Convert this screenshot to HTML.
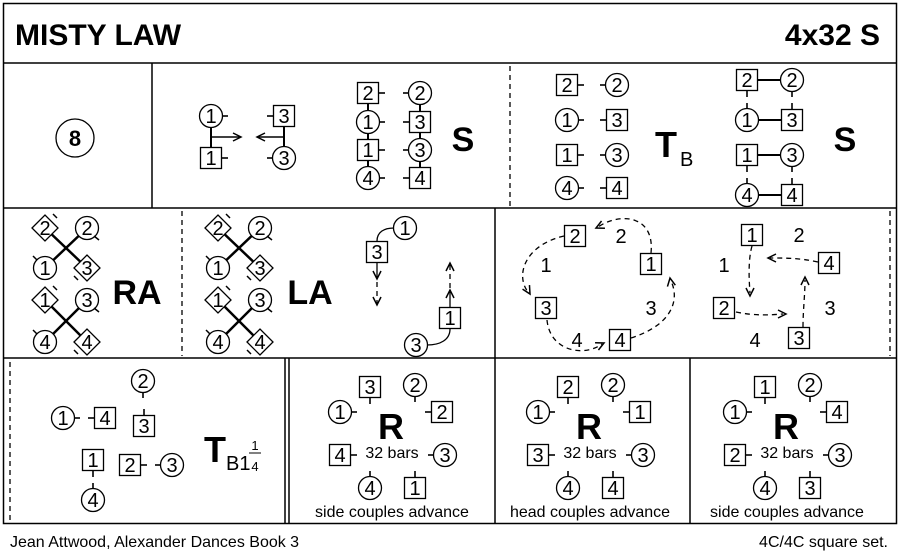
<!DOCTYPE html><html><head><style>body{margin:0;background:#fff}svg{display:block}text{font-family:"Liberation Sans",sans-serif}</style></head><body>
<svg id="s" width="900" height="557" xmlns="http://www.w3.org/2000/svg"></svg>
<script>
let o='';const P=s=>o+=s;
const T=(x,y,t,sz=20,w='normal',a='middle')=>P(`<text x="${x}" y="${y}" font-size="${sz}" font-weight="${w}" text-anchor="${a}">${t}</text>`);
const C=(x,y,n)=>{P(`<circle cx="${x}" cy="${y}" r="11.5" fill="#fff" stroke="#000" stroke-width="1.3"/>`);T(x,y+7,n);};
const S=(x,y,n)=>{P(`<rect x="${x-10.5}" y="${y-10.5}" width="21" height="21" fill="#fff" stroke="#000" stroke-width="1.3"/>`);T(x,y+7,n);};
const D=(x,y,n)=>{P(`<path d="M${x-13},${y}L${x},${y-13}L${x+13},${y}L${x},${y+13}Z" fill="#fff" stroke="#000" stroke-width="1.3"/>`);T(x,y+7,n);};
const L=(a,b,c,d,w=2)=>P(`<line x1="${a}" y1="${b}" x2="${c}" y2="${d}" stroke="#000" stroke-width="${w}"/>`);
const tr=(x,y)=>L(x+11,y,x+17,y,1.6),tl=(x,y)=>L(x-17,y,x-11,y,1.6),tu=(x,y)=>L(x,y-17,x,y-11,1.6),td=(x,y)=>L(x,y+11,x,y+17,1.6);
const ah=(x,y,ang)=>P(`<path d="M-8,-4L0,0L-8,4" fill="none" stroke="#000" stroke-width="1.5" transform="translate(${x},${y}) rotate(${ang})"/>`);
const DP=(d)=>P(`<path d="${d}" fill="none" stroke="#000" stroke-width="1.3" stroke-dasharray="5,4"/>`);
P(`<rect x="3.5" y="3.5" width="893" height="520" fill="none" stroke="#000" stroke-width="1.5"/>`);
L(3,63,897,63,1.5);L(3,208,897,208,1.5);L(3,358,897,358,1.5);
L(152,63,152,208,1.5);DP('M510,66V206');
DP('M182,211V356');L(495,208,495,358,1.5);DP('M890,211V356');
DP('M10,362V520');L(285,358,285,523,1.5);L(289,358,289,523,1.5);L(495,358,495,523,1.5);L(690,358,690,523,1.5);
T(15,45,'MISTY LAW',30,'bold','start');T(880,45,'4x32 S',30,'bold','end');
T(10,547,'Jean Attwood, Alexander Dances Book 3',16,'normal','start');T(888,547,'4C/4C  square set.',16,'normal','end');
// row1
P(`<circle cx="75" cy="138" r="19" fill="none" stroke="#000" stroke-width="1.3"/>`);T(75,146,'8',22,'bold');
L(211,116,211,158);L(211,137,240,137,1.5);ah(241,137,0);L(284,116,284,158);L(284,137,258,137,1.5);ah(257,137,180);
C(211,116,1);tr(211,116);S(211,158,1);tr(211,158);S(284,116,3);tl(284,116);C(284,158,3);tl(284,158);
L(368,93,368,178);L(420,93,420,178);
[[93,S,2,C,2],[122,C,1,S,3],[150,S,1,C,3],[178,C,4,S,4]].forEach(r=>{r[1](368,r[0],r[2]);tr(368,r[0]);r[3](420,r[0],r[4]);tl(420,r[0]);});
T(463,151,'S',34,'bold');
[[85,S,2,C,2],[120,C,1,S,3],[155,S,1,C,3],[188,C,4,S,4]].forEach(r=>{r[1](567,r[0],r[2]);tr(567,r[0]);r[3](617,r[0],r[4]);tl(617,r[0]);});
T(655,157,'T',36,'bold','start');T(680,166,'B',20,'normal','start');
[[80,S,2,C,2],[120,C,1,S,3],[155,S,1,C,3],[195,C,4,S,4]].forEach(r=>{L(747,r[0],792,r[0]);r[1](747,r[0],r[2]);r[3](792,r[0],r[4]);});
[747,792].forEach(x=>{td(x,80);tu(x,120);td(x,155);tu(x,195);});
T(845,151,'S',34,'bold');
// row2
[[0,'RA'],[173,'LA']].forEach(([dx,lab])=>{
 L(45+dx,228,87+dx,268,2.5);L(87+dx,228,45+dx,268,2.5);L(45+dx,300,87+dx,342,2.5);L(87+dx,300,45+dx,342,2.5);
 D(45+dx,228,2);C(87+dx,228,2);C(45+dx,268,1);D(87+dx,268,3);D(45+dx,300,1);C(87+dx,300,3);C(45+dx,342,4);D(87+dx,342,4);
 L(53+dx,214,57+dx,218,1.5);L(94+dx,236,99+dx,240,1.5);L(33+dx,256,37+dx,260,1.5);L(74+dx,276,78+dx,280,1.5);
 L(53+dx,286,57+dx,290,1.5);L(94+dx,308,99+dx,312,1.5);L(33+dx,330,37+dx,334,1.5);L(74+dx,350,78+dx,354,1.5);
 T(137+dx,304,lab,34,'bold');});
P(`<path d="M394,228C384,228 377,232 377,241" fill="none" stroke="#000" stroke-width="1.3"/>`);
P(`<path d="M427,345C440,345 450,340 450,329" fill="none" stroke="#000" stroke-width="1.3"/>`);
L(377,263,377,278,1.3);ah(377,279,90);DP('M377,282V304');ah(377,305,90);
L(450,307,450,292,1.3);ah(450,290,-90);DP('M450,288V265');ah(450,263,-90);
C(405,228,1);S(377,252,3);C(416,345,3);S(450,318,1);
DP('M564,236C525,245 515,275 528,292');ah(530,294,60);
DP('M651,253C655,215 620,212 598,227');ah(596,228,155);
DP('M631,338C672,325 680,300 671,281');ah(670,278,-100);
DP('M547,320C550,352 585,357 602,344');ah(604,343,-25);
S(575,236,2);S(651,264,1);S(546,308,3);S(620,340,4);
T(621,243,'2');T(546,272,'1');T(651,315,'3');T(577,347,'4');
DP('M752,246C748,260 749,280 750,293');ah(750,296,90);
DP('M818,262C800,258 785,258 770,258');ah(768,258,180);
DP('M736,312C755,316 770,315 783,314');ah(786,314,0);
DP('M803,327C803,310 805,295 805,280');ah(805,277,-90);
S(752,235,1);S(829,263,4);S(724,308,2);S(799,338,3);
T(799,242,'2');T(724,272,'1');T(830,315,'3');T(755,347,'4');
// row3 panel1
C(143,381,2);td(143,381);S(144,426,3);tu(144,426);C(63,418,1);tr(63,418);S(105,418,4);tl(105,418);
S(93,460,1);td(93,460);S(130,465,2);tr(130,465);C(172,465,3);tl(172,465);C(93,500,4);tu(93,500);
T(204,462,'T',36,'bold','start');T(226,470,'B1',20,'normal','start');T(255,450,'1',13);L(249,453,261,453,1);T(255,471,'4',13);
[[-198,'3','1','2','4','1','side couples advance'],[0,'2','1','1','3','4','head couples advance'],[197,'1','1','4','2','3','side couples advance']].forEach(([dx,a,b,c,d,e,t])=>{
 S(568+dx,387,a);td(568+dx,387);C(613+dx,385,2);td(613+dx,385);C(538+dx,412,b);tr(538+dx,412);S(640+dx,412,c);tl(640+dx,412);
 T(589+dx,439,'R',36,'bold');S(538+dx,455,d);tr(538+dx,455);T(590+dx,458,'32 bars',16);C(643+dx,455,3);tl(643+dx,455);
 C(568+dx,488,4);tu(568+dx,488);S(613+dx,488,e);tu(613+dx,488);T(590+dx,517,t,16);});
document.getElementById('s').innerHTML=o;
</script></body></html>
